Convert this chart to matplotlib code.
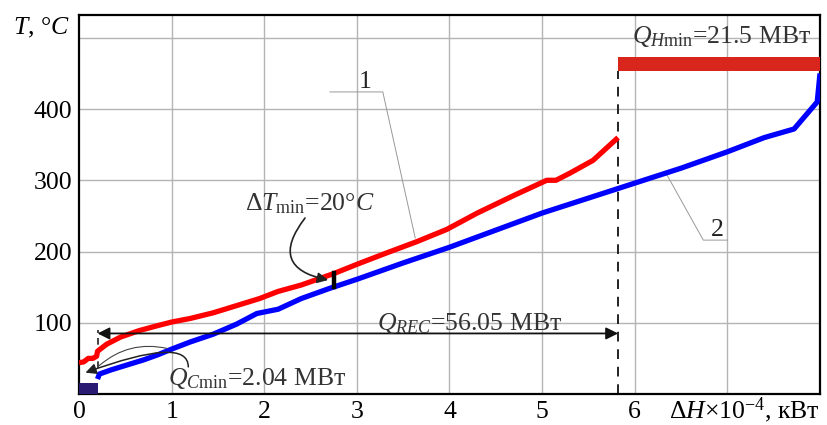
import matplotlib
matplotlib.use("Agg")
import matplotlib.pyplot as plt

plt.rcParams["font.family"] = ["Liberation Serif", "DejaVu Serif"]
plt.rcParams["mathtext.fontset"] = "custom"
plt.rcParams["mathtext.rm"] = "Liberation Serif"
plt.rcParams["mathtext.it"] = "Liberation Serif:italic"

# curve 1 (hot stream) and curve 2 (cold stream)
hot_dh = [0, 0.05, 0.1, 0.15, 0.19, 0.2, 0.3, 0.45, 0.65, 0.85, 1.0, 1.2, 1.45, 1.7,
          1.95, 2.15, 2.4, 2.75, 3.0, 3.3, 3.65, 3.97, 4.3, 4.7, 5.05, 5.15, 5.3, 5.55, 5.82]
hot_t = [44, 45, 50, 50, 53, 60, 70, 80, 89, 96, 101, 106, 114, 124,
         134, 144, 153, 169, 182, 197, 214, 231, 254, 279, 300, 300, 310, 328, 360]
cold_dh = [0.2, 0.22, 0.35, 0.5, 0.7, 0.85, 1.0, 1.2, 1.45, 1.7, 1.92, 2.15, 2.4, 2.7,
           3.0, 3.5, 4.0, 4.5, 5.0, 5.5, 6.0, 6.5, 7.0, 7.4, 7.72, 7.97, 8.0]
cold_t = [21, 28, 34, 40, 48, 55, 63, 73, 84, 98, 113, 119, 134, 148,
          161, 184, 206, 230, 254, 275, 296, 317, 340, 360, 372, 410, 450]

qh_span = [5.82, 8.0]      # hot utility bar
qh_band = [453, 473]
qc_span = [0.0, 0.2]       # cold utility block
qc_band = [0, 16]
pinch_dh = 2.75
pinch_t = [150, 170]
rec_span = [0.2, 5.82]
rec_t = 85

x_ticks = [0, 1, 2, 3, 4, 5, 6]
y_ticks = [100, 200, 300, 400]

FS = 18.5

fig = plt.figure(figsize=(8.27, 4.25), dpi=100)
ax = fig.add_axes([79 / 827, 1 - 394 / 425, 741 / 827, 379 / 425])
ax.set_xlim(0, 8)
ax.set_ylim(0, 532)

for x in range(1, 8):
    ax.axvline(x, color="#b4b4b4", lw=1.0, zorder=0)
for y in range(100, 600, 100):
    ax.axhline(y, color="#b4b4b4", lw=1.0, zorder=0)

ax.set_xticks(x_ticks)
ax.set_xticklabels([str(v) for v in x_ticks])
ax.set_yticks(y_ticks)
ax.set_yticklabels([str(v) for v in y_ticks])
ax.tick_params(length=0, labelsize=FS, pad=5)
for s in ax.spines.values():
    s.set_linewidth(1.6)

ax.plot(hot_dh, hot_t, color="#ff0000", lw=3.8, zorder=3, solid_capstyle="butt")
ax.plot(cold_dh, cold_t, color="#0000ff", lw=3.8, zorder=3, solid_capstyle="butt")

ax.fill_between(qh_span, qh_band[0], qh_band[1], color="#d9261c", lw=0, zorder=3)
ax.fill_between(qc_span, qc_band[0], qc_band[1], color="#2b1a72", lw=0, zorder=3)

ax.plot([rec_span[1], rec_span[1]], [0, qh_band[0]], color="#222222", lw=1.4,
        ls=(0, (5, 4)), zorder=2)
ax.plot([rec_span[0], rec_span[0]], [37, 90], color="#222222", lw=1.2,
        ls=(0, (4, 3)), zorder=2)
ax.annotate("", xy=(rec_span[1], rec_t), xytext=(rec_span[0], rec_t),
            arrowprops=dict(arrowstyle="<|-|>", color="#111111", lw=1.3,
                            mutation_scale=18, shrinkA=0, shrinkB=0))
ax.plot([pinch_dh, pinch_dh], pinch_t, color="black", lw=3.2, zorder=4)

ax.text(3.22, 90, r"$Q_{REC}$=56.05 МВт", fontsize=FS, color="#333333")
ax.text(5.97, 492, r"$Q_{H\mathrm{min}}$=21.5 МВт", fontsize=FS, color="#333333")
ax.text(1.79, 258, r"Δ$T_{\mathrm{min}}$=20°$C$", fontsize=FS, color="#333333")
ax.text(0.96, 12, r"$Q_{C\mathrm{min}}$=2.04 МВт", fontsize=FS, color="#333333")

ax.annotate("", xy=(2.69, 160), xytext=(2.44, 247),
            arrowprops=dict(arrowstyle="-|>", color="#222222", lw=1.2,
                            mutation_scale=16, connectionstyle="arc3,rad=0.8",
                            shrinkA=0, shrinkB=0))
ax.annotate("", xy=(0.07, 30), xytext=(1.18, 38),
            arrowprops=dict(arrowstyle="-|>", color="#222222", lw=1.1,
                            mutation_scale=16,
                            connectionstyle="angle3,angleA=90,angleB=20",
                            shrinkA=0, shrinkB=0))
ax.annotate("", xy=(0.22, 40), xytext=(0.95, 64),
            arrowprops=dict(arrowstyle="-", color="#444444", lw=0.8,
                            connectionstyle="arc3,rad=0.25",
                            shrinkA=0, shrinkB=0))

# leader lines for curve numbers
ax.plot([2.71, 3.28, 3.63], [424, 424, 219], color="#999999", lw=0.7, zorder=2)
ax.text(3.09, 430, "1", fontsize=FS, ha="center", color="#222222")
ax.plot([7.0, 6.74, 6.35], [216, 216, 307], color="#999999", lw=0.7, zorder=2)
ax.text(6.89, 222, "2", fontsize=FS, ha="center", color="#222222")

fig.text(70 / 827, 1 - 28 / 425, r"$T$, °$C$", fontsize=FS, ha="right", va="center")
fig.text(820 / 827, 1 - 410 / 425, r"Δ$H$×10$^{-4}$, кВт", fontsize=FS,
         ha="right", va="center")

fig.savefig("out.png", dpi=100)
